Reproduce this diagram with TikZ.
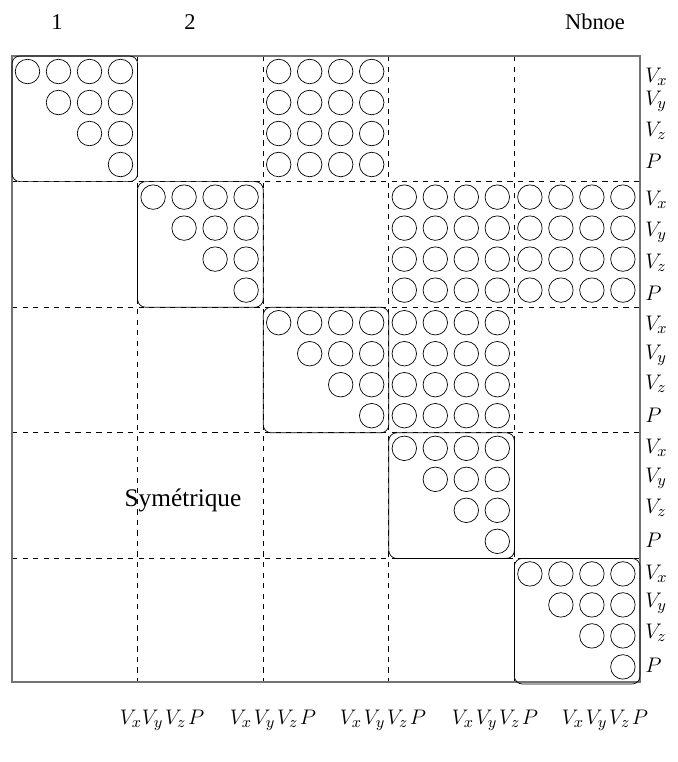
\documentclass[tikz,border=0pt]{standalone}
\usepackage{fontspec}
\setmainfont{Liberation Serif}

\begin{document}
\begin{tikzpicture}[
    x=0.02cm, y=-0.02cm,
    coef/.style={draw=black, thin},
    diagblock/.style={draw=black, thin, rounded corners=4.5pt},
    outerbox/.style={draw=black!55, line width=0.8pt},
    gridline/.style={draw=black, thin, dashed},
    ddl/.style={font=\fontsize{13}{15}\selectfont, anchor=west, inner sep=0pt},
    ddlbot/.style={font=\fontsize{13}{15}\selectfont, inner sep=0pt},
    headlbl/.style={font=\fontsize{12.8}{14}\selectfont, inner sep=0pt}
]
\useasboundingbox (0,0) rectangle (678,762);
\def\cellw{125.6}
\def\gap{\mkern1.5mu}

% --- Numéros de noeuds ---
\node[headlbl] (n1) at (57,22) {1};
\node[headlbl] (n2) at (190,22) {2};
\node[headlbl] (nN) at (595,22) {Nbnoe};

% --- Grille des blocs ---
\foreach \k in {1,...,4} {
    \draw[gridline] (12+\k*\cellw,56) -- (12+\k*\cellw,682);
    \draw[gridline] (12,56+\k*\cellw) -- (640,56+\k*\cellw);
}
\draw[outerbox] (12,56) rectangle (640,682);

% --- Blocs diagonaux (triangle superieur) ---
\foreach \b in {0,...,4} {
    \draw[diagblock] (12+\b*\cellw,56+\b*\cellw) rectangle ++(\cellw,\cellw);
    \foreach \i in {0,...,3}
        \foreach \j in {\i,...,3}
            \draw[coef] (12+\b*\cellw+15.5+31*\j,56+\b*\cellw+15.5+31*\i) circle[radius=0.245cm];
}

% --- Blocs extra-diagonaux pleins ---
\foreach \r/\c in {0/2,1/3,1/4,2/3} {
    \foreach \i in {0,...,3}
        \foreach \j in {0,...,3}
            \draw[coef] (12+\c*\cellw+15.5+31*\j,56+\r*\cellw+15.5+31*\i) circle[radius=0.245cm];
}

\node[font=\fontsize{14.4}{16}\selectfont] (sym) at (183,500) {Symétrique};

% --- Degres de liberte a droite ---
\foreach \yy/\t [count=\n] in {77/V_x,101/V_y,131/V_z,161/P,
    200/V_x,232/V_y,263/V_z,293/P,
    325/V_x,355/V_y,384/V_z,415/P,
    448/V_x,478/V_y,508/V_z,540/P,
    574/V_x,603/V_y,633/V_z,665/P}
    \node[ddl] (ddl\n) at (645,\yy) {$\t$};

% --- Degres de liberte en bas ---
\node[ddlbot] (bas1) at (162,720) {$V_xV_y\gap V_z\gap P$};
\foreach \xx [count=\n from 2] in {273,383,495,605}
    \node[ddlbot] (bas\n) at (\xx,720) {$V_x\gap V_y\gap V_z\gap P$};

\end{tikzpicture}
\end{document}
